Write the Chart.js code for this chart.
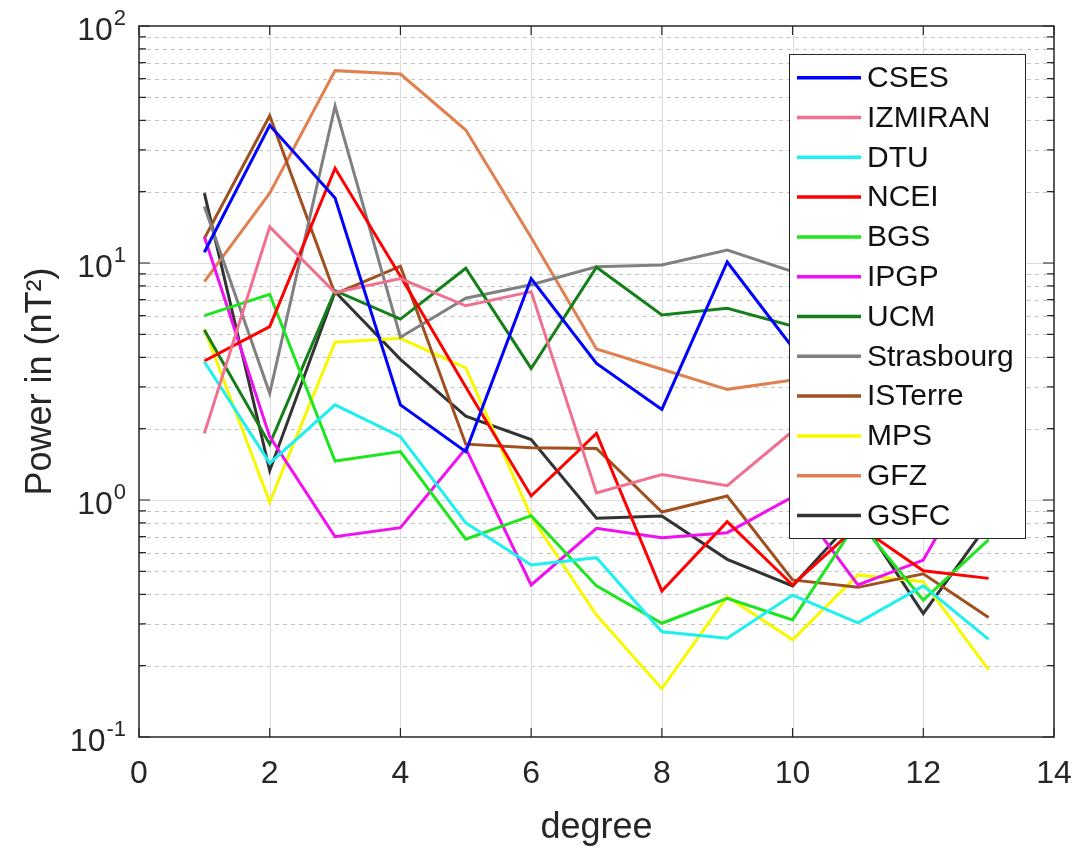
<!DOCTYPE html>
<html>
<head>
<meta charset="utf-8">
<script src="https://cdn.jsdelivr.net/npm/chart.js@4/dist/chart.umd.min.js"></script>
<style>
html,body{margin:0;padding:0;background:#fff;}
canvas{display:block;}
</style>
</head>
<body>
<canvas id="c" width="1078" height="846"></canvas>
<script>
// ---- data ----
const degrees = [1, 2, 3, 4, 5, 6, 7, 8, 9, 10, 11, 12, 13];

const seriesNames = ['CSES', 'IZMIRAN', 'DTU', 'NCEI', 'BGS', 'IPGP', 'UCM',
                     'Strasbourg', 'ISTerre', 'MPS', 'GFZ', 'GSFC'];
const seriesColors = ['#0000ff', '#f0708f', '#1ef0f0', '#ff0000', '#1ee61e', '#f010f0',
                      '#15801a', '#808080', '#a0501e', '#f8f800', '#e08050', '#333333'];

const CSES       = [11.1, 38.1, 18.8, 2.52, 1.60, 8.6, 3.77, 2.41, 10.1, 4.4, 2.2, 4.0, 2.0];
const IZMIRAN    = [1.91, 14.2, 7.5, 8.6, 6.6, 7.57, 1.07, 1.28, 1.15, 1.95, 1.6, 2.2, 1.4];
const DTU        = [3.83, 1.43, 2.52, 1.85, 0.80, 0.532, 0.571, 0.278, 0.261, 0.397, 0.303, 0.434, 0.258];
const NCEI       = [3.86, 5.39, 25.1, 8.8, 3.0, 1.04, 1.91, 0.413, 0.81, 0.438, 0.78, 0.503, 0.467];
const BGS        = [6.0, 7.38, 1.46, 1.60, 0.683, 0.859, 0.434, 0.302, 0.385, 0.312, 0.82, 0.378, 0.68];
const IPGP       = [12.9, 1.85, 0.70, 0.764, 1.65, 0.438, 0.759, 0.693, 0.728, 1.03, 0.438, 0.558, 1.7];
const UCM        = [5.22, 1.72, 7.64, 5.8, 9.5, 3.59, 9.6, 6.03, 6.44, 5.42, 3.2, 4.5, 2.8];
const Strasbourg = [17.3, 2.82, 45.9, 4.86, 7.1, 8.1, 9.64, 9.8, 11.35, 9.2, 7.0, 8.5, 6.0];
const ISTerre    = [12.7, 41.8, 7.4, 9.7, 1.72, 1.66, 1.65, 0.89, 1.04, 0.46, 0.428, 0.488, 0.319];
const MPS        = [5.27, 0.98, 4.63, 4.81, 3.61, 0.85, 0.327, 0.16, 0.391, 0.257, 0.483, 0.452, 0.192];
const GFZ        = [8.34, 19.7, 64.8, 62.7, 36.4, 12.8, 4.34, 3.56, 2.93, 3.21, 3.0, 3.8, 2.6];
const GSFC       = [19.7, 1.33, 7.57, 3.92, 2.26, 1.80, 0.837, 0.856, 0.562, 0.434, 0.87, 0.332, 0.80];

const seriesValues = [CSES, IZMIRAN, DTU, NCEI, BGS, IPGP, UCM, Strasbourg, ISTerre, MPS, GFZ, GSFC];

const xTickValues = [0, 2, 4, 6, 8, 10, 12, 14];
const yMajorValues = [0.1, 1, 10, 100];
const yTickBases = ['10', '10', '10', '10'];
const yTickExponents = ['-1', '0', '1', '2'];
const xTitle = 'degree';
const yTitle = 'Power in (nT\u00B2)';

// ---- drawing ----
const FONT = '"Liberation Sans", Arial, Helvetica, sans-serif';
Chart.defaults.font.family = FONT;
const AX = '#262626';

const matlabPlugin = {
  id: 'matlabAxes',
  beforeDatasetsDraw(chart) {
    const {ctx, chartArea: a, scales: {x, y}} = chart;
    ctx.save();
    ctx.lineWidth = 1;
    // minor dashed horizontal grid
    ctx.strokeStyle = '#c4c4c4';
    ctx.setLineDash([4, 4]);
    for (let d = 0; d < yMajorValues.length - 1; d++) {
      for (let k = 2; k <= 9; k++) {
        const py = Math.round(y.getPixelForValue(yMajorValues[d] * k)) + 0.5;
        ctx.beginPath(); ctx.moveTo(a.left, py); ctx.lineTo(a.right, py); ctx.stroke();
      }
    }
    ctx.setLineDash([]);
    ctx.strokeStyle = '#dcdcdc';
    for (let d = 1; d < yMajorValues.length - 1; d++) {
      const py = Math.round(y.getPixelForValue(yMajorValues[d])) + 0.5;
      ctx.beginPath(); ctx.moveTo(a.left, py); ctx.lineTo(a.right, py); ctx.stroke();
    }
    for (const v of xTickValues) {
      if (v === x.min || v === x.max) continue;
      const px = Math.round(x.getPixelForValue(v)) + 0.5;
      ctx.beginPath(); ctx.moveTo(px, a.top); ctx.lineTo(px, a.bottom); ctx.stroke();
    }
    ctx.restore();
  },
  afterDraw(chart) {
    const {ctx, chartArea: a, scales: {x, y}} = chart;
    ctx.save();
    // frame
    ctx.strokeStyle = AX;
    ctx.lineWidth = 1.5;
    ctx.strokeRect(a.left, a.top, a.right - a.left, a.bottom - a.top);
    // tick marks
    ctx.lineWidth = 1.2;
    ctx.beginPath();
    for (let d = 0; d < yMajorValues.length; d++) {
      const py = y.getPixelForValue(yMajorValues[d]);
      ctx.moveTo(a.left, py); ctx.lineTo(a.left + 11, py);
      ctx.moveTo(a.right, py); ctx.lineTo(a.right - 11, py);
      if (d < yMajorValues.length - 1) {
        for (let k = 2; k <= 9; k++) {
          const pm = y.getPixelForValue(yMajorValues[d] * k);
          ctx.moveTo(a.left, pm); ctx.lineTo(a.left + 7, pm);
          ctx.moveTo(a.right, pm); ctx.lineTo(a.right - 7, pm);
        }
      }
    }
    for (const v of xTickValues) {
      const px = x.getPixelForValue(v);
      ctx.moveTo(px, a.bottom); ctx.lineTo(px, a.bottom - 9);
      ctx.moveTo(px, a.top); ctx.lineTo(px, a.top + 9);
    }
    ctx.stroke();

    // y tick labels 10^n
    ctx.fillStyle = AX;
    ctx.textBaseline = 'alphabetic';
    ctx.textAlign = 'left';
    const right = a.left - 13;
    yMajorValues.forEach((v, i) => {
      const py = y.getPixelForValue(v);
      ctx.font = '32px ' + FONT;
      const wb = ctx.measureText(yTickBases[i]).width;
      ctx.font = '22px ' + FONT;
      const we = ctx.measureText(yTickExponents[i]).width;
      const xb = right - we - wb - 1;
      ctx.font = '32px ' + FONT;
      ctx.fillText(yTickBases[i], xb, py + 14);
      ctx.font = '22px ' + FONT;
      ctx.fillText(yTickExponents[i], xb + wb + 1, py - 1);
    });

    // legend box (drawn over the lines, like the reference)
    const lx = 789.5, ly = 54.5, lw = 236, lh = 484;
    ctx.fillStyle = '#ffffff';
    ctx.fillRect(lx, ly, lw, lh);
    ctx.strokeStyle = AX;
    ctx.lineWidth = 1;
    ctx.strokeRect(lx, ly, lw, lh);
    ctx.font = '30px ' + FONT;
    ctx.textBaseline = 'middle';
    chart.data.datasets.forEach((ds, i) => {
      const ry = 77.7 + i * 39.8;
      ctx.strokeStyle = ds.borderColor;
      ctx.lineWidth = 3.5;
      ctx.beginPath(); ctx.moveTo(797, ry); ctx.lineTo(861, ry); ctx.stroke();
      ctx.fillStyle = '#111111';
      ctx.fillText(ds.label, 867, ry + 1);
    });
    ctx.restore();
  }
};

new Chart(document.getElementById('c'), {
  type: 'line',
  data: {
    datasets: seriesNames.map((name, i) => ({
      label: name,
      data: degrees.map((d, j) => ({x: d, y: seriesValues[i][j]})),
      borderColor: seriesColors[i],
      backgroundColor: seriesColors[i],
      borderWidth: 3,
      pointRadius: 0,
      tension: 0,
      fill: false
    }))
  },
  options: {
    responsive: false,
    animation: false,
    devicePixelRatio: 1,
    layout: {padding: {left: 0, right: 24, top: 26, bottom: 0}},
    plugins: {legend: {display: false}, tooltip: {enabled: false}},
    scales: {
      x: {
        type: 'linear', min: 0, max: 14,
        afterBuildTicks(s) { s.ticks = xTickValues.map(v => ({value: v})); },
        ticks: {font: {size: 32}, color: AX, padding: 18, maxRotation: 0, autoSkip: false},
        grid: {display: false, drawTicks: false},
        border: {display: false},
        title: {display: true, text: xTitle, font: {size: 36}, color: AX, padding: {top: 0, bottom: -4}},
        afterFit(s) { s.height = 109; s.paddingLeft = 0; s.paddingRight = 0; }
      },
      y: {
        type: 'logarithmic', min: 0.1, max: 100,
        ticks: {display: false},
        grid: {display: false, drawTicks: false},
        border: {display: false},
        title: {display: true, text: yTitle, font: {size: 36}, color: AX, padding: {top: 19, bottom: 0}},
        afterFit(s) { s.width = 139; s.paddingTop = 0; s.paddingBottom = 0; }
      }
    }
  },
  plugins: [matlabPlugin]
});
</script>
</body>
</html>
